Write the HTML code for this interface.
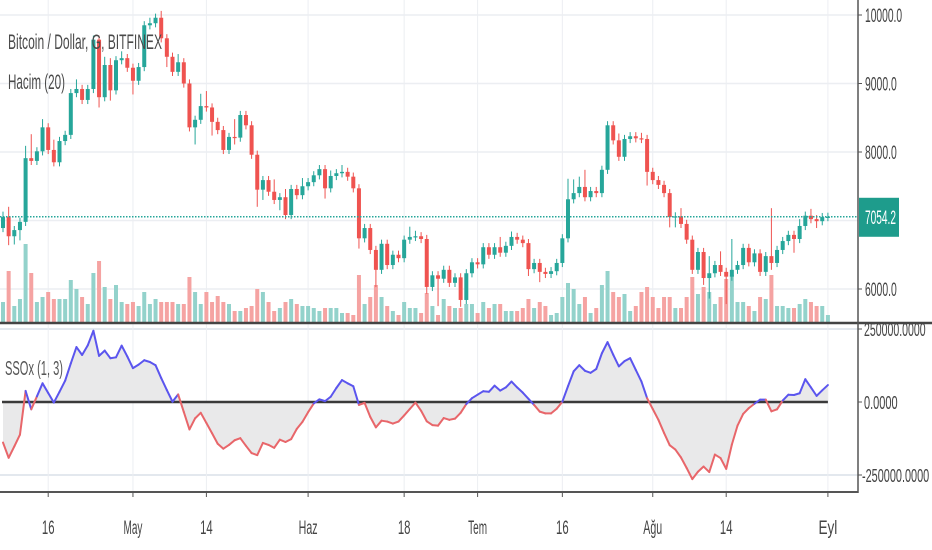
<!DOCTYPE html>
<html><head><meta charset="utf-8">
<style>
html,body{margin:0;padding:0;background:#fff;width:932px;height:550px;overflow:hidden}
svg{display:block;font-family:"Liberation Sans",sans-serif}
</style></head>
<body>
<svg id="chart" width="932" height="550" viewBox="0 0 932 550" xmlns="http://www.w3.org/2000/svg">
<rect x="0" y="0" width="932" height="550" fill="#ffffff"/>
<g id="grid"></g>
<g id="volume"></g>
<g id="candles"></g>
<g id="sso"></g>
<g id="axes"></g>
<text x="8" y="49" font-size="21" fill="#4a4a4a" textLength="154" lengthAdjust="spacingAndGlyphs">Bitcoin / Dollar, G, BITFINEX</text>
<text x="8" y="89" font-size="21" fill="#4a4a4a" textLength="57" lengthAdjust="spacingAndGlyphs">Hacim (20)</text>
<text x="5" y="375" font-size="20" fill="#555" textLength="58" lengthAdjust="spacingAndGlyphs">SSOx (1, 3)</text>
</svg>
<script>
const closes=[7050,6770,6860,6980,7910,7870,8010,8360,8030,7850,8160,8250,8860,8920,8760,8920,9640,8800,9270,8900,9340,9370,9230,9040,9240,9850,9880,9960,9660,9390,9170,9310,9000,8360,8470,8670,8650,8440,8320,8030,8220,8210,8540,8390,7960,7450,7590,7420,7300,7340,7080,7460,7370,7500,7560,7660,7750,7470,7650,7690,7710,7640,7470,6740,6890,6570,6280,6660,6350,6500,6450,6720,6760,6770,6730,6030,6200,6150,6280,6090,6170,5840,6230,6390,6360,6610,6500,6610,6530,6630,6760,6720,6670,6290,6380,6250,6220,6260,6380,6740,7310,7400,7490,7340,7430,7400,7740,8390,8170,7930,8190,8230,8200,8190,7710,7590,7520,7400,7050,7060,6950,6720,6280,6540,6160,6230,6350,6250,6180,6280,6350,6600,6390,6520,6250,6480,6380,6570,6700,6790,6730,6920,7070,7020,6990,7050,7054];
const firstOpen=6890;
const wickHi=[80,150,60,60,180,350,60,120,60,150,60,60,60,140,60,60,60,60,120,100,60,100,60,60,60,60,80,60,100,60,60,120,60,60,60,180,220,60,60,60,60,260,60,60,60,60,60,60,180,60,120,60,60,120,60,60,60,60,80,60,100,60,60,60,60,60,60,60,60,60,60,60,150,80,60,60,60,60,60,60,60,60,60,60,60,60,60,60,150,60,80,60,60,60,60,60,60,60,60,60,300,200,150,250,60,60,60,60,60,100,60,60,60,80,60,60,60,60,60,60,120,60,60,60,60,250,60,200,60,450,60,60,60,60,60,60,700,60,60,60,60,100,60,100,60,60,60];
const wickLo=[60,130,120,150,60,60,60,60,60,60,60,60,60,60,60,60,60,150,60,150,60,60,60,200,60,60,60,60,60,150,60,60,60,60,250,60,60,200,60,60,60,100,60,60,60,250,150,60,60,150,60,60,60,60,60,60,60,150,60,60,60,60,60,150,60,60,250,60,60,60,60,60,60,60,60,100,60,400,60,60,60,100,60,60,60,60,60,60,60,60,60,60,60,100,60,150,60,60,60,60,60,60,60,60,60,60,60,60,60,60,60,60,60,60,200,60,60,60,150,150,60,60,60,60,100,300,60,60,400,60,60,60,60,60,60,60,100,60,60,60,200,60,60,60,100,60,60];
const volumes=[20,51,16,23,78,49,20,25,30,23,23,23,42,33,25,18,49,61,35,23,37,20,18,20,16,30,18,23,20,20,20,18,18,45,30,18,30,20,26,20,18,11,11,14,16,33,30,20,11,14,20,23,18,16,16,14,11,14,14,14,9,9,7,47,18,25,37,25,16,11,7,20,14,14,9,29,16,7,23,16,14,14,18,18,9,20,14,18,18,11,11,11,14,23,14,20,16,7,9,25,39,33,18,25,9,14,37,51,30,25,28,11,16,30,35,25,14,25,25,14,14,25,45,28,35,30,18,25,43,47,20,20,16,11,25,23,47,16,16,14,14,18,23,20,16,16,7];
const ssoValues=[-139,-191,-152,-112,38,-25,19,64,31,-2,35,73,132,188,161,194,244,158,176,150,153,193,156,116,128,143,137,126,82,41,1,26,-34,-94,-56,-37,-72,-107,-143,-160,-147,-131,-124,-150,-175,-182,-140,-147,-157,-129,-137,-127,-92,-68,-35,-5,9,3,18,48,75,64,54,-10,-3,-51,-87,-64,-67,-74,-67,-46,-24,-2,-30,-66,-79,-81,-55,-61,-57,-37,-7,13,25,37,35,56,39,50,70,50,32,11,-10,-33,-39,-39,-23,1,54,105,126,107,100,113,167,205,162,122,140,150,110,70,13,-24,-61,-106,-148,-163,-190,-226,-264,-239,-221,-240,-180,-192,-229,-146,-81,-41,-21,-6,8,8,-32,-25,5,25,24,30,78,50,21,40,58];
const priceTicks=[10000,9000,8000,7000,6000];
const priceLabels=["10000.0","9000.0","8000.0","","6000.0"];
const ssoTicks=[250,0,-250];
const ssoLabels=["250000.0000","0.0000","-250000.0000"];
const timeIdx=[8,23,36,54,71,84,99,115,128,146];
const timeLabels=["16","May","14","Haz","18","Tem","16","Ağu","14","Eyl"];
const lastPrice=7054.2;

const NS="http://www.w3.org/2000/svg";
const xOf=i=>3+i*5.65;
const yP=p=>15+(10000-p)*0.0685;
const yS=v=>402-v*(73/250);
const yV=v=>322-v;
function mk(parent,tag,attrs,text){const e=document.createElementNS(NS,tag);for(const k in attrs)e.setAttribute(k,attrs[k]);if(text!==undefined)e.textContent=text;parent.appendChild(e);return e;}
const G=id=>document.getElementById(id);
const grid=G('grid'),vol=G('volume'),cd=G('candles'),sso=G('sso'),ax=G('axes');

priceTicks.forEach(p=>{const l=mk(grid,'line',{x1:0,x2:858,y1:yP(p),y2:yP(p),stroke:'#eceef2','stroke-width':1.5});

});
ssoTicks.forEach(v=>{if(v===0)return;const l=mk(grid,'line',{x1:0,x2:858,y1:yS(v),y2:yS(v),stroke:'#e3e8ee','stroke-width':2});

});
timeIdx.forEach(i=>{const l=mk(grid,'line',{x1:xOf(i),x2:xOf(i),y1:0,y2:492,stroke:'#eceef2','stroke-width':1});

});

closes.forEach((c,i)=>{
 const o=i===0?firstOpen:closes[i-1];
 const up=c>=o;const col=up?'#26a69a':'#ef5350';
 const x=xOf(i);
 const hv=mk(vol,'rect',{x:x-2,y:yV(volumes[i]),width:4,height:volumes[i],fill:up?'#93d2cb':'#f5a3a2'});
 
 
 const hi=Math.max(o,c)+wickHi[i],lo=Math.min(o,c)-wickLo[i];
 const w=mk(cd,'line',{x1:x,x2:x,y1:yP(hi),y2:yP(lo),stroke:col,'stroke-width':1});
 
 
 const top=yP(Math.max(o,c)),h=Math.max(1.2,yP(Math.min(o,c))-top);
 const b=mk(cd,'rect',{x:x-2,y:top,width:4,height:h,fill:col});
 
 
});
const lp=mk(cd,'line',{x1:0,x2:858,y1:yP(lastPrice),y2:yP(lastPrice),stroke:'#26a69a','stroke-width':1.5,'stroke-dasharray':'1.5,1.5'});



let d='M'+xOf(0)+','+yS(0);
ssoValues.forEach((v,i)=>{d+=' L'+xOf(i)+','+yS(v);});
d+=' L'+xOf(ssoValues.length-1)+','+yS(0)+' Z';
const fa=mk(sso,'path',{d:d,fill:'#e9e9ea'});


const zl=mk(sso,'line',{x1:2,x2:xOf(ssoValues.length-1),y1:yS(0),y2:yS(0),stroke:'#3a3a3a','stroke-width':2.5});


for(let i=1;i<ssoValues.length;i++){
 const a=ssoValues[i-1],b=ssoValues[i];
 const s=mk(sso,'line',{x1:xOf(i-1),y1:yS(a),x2:xOf(i),y2:yS(b),stroke:(a+b)/2>=0?'#5b55ee':'#e8666a','stroke-width':2,'stroke-linecap':'round'});
 
 
}

const sep=mk(ax,'line',{x1:0,x2:932,y1:323,y2:323,stroke:'#444','stroke-width':2.5});


const bl=mk(ax,'line',{x1:0,x2:858,y1:492,y2:492,stroke:'#555','stroke-width':2});


const vl=mk(ax,'line',{x1:858,x2:858,y1:0,y2:493,stroke:'#555','stroke-width':1.5});


priceTicks.forEach((p,k)=>{
 if(!priceLabels[k])return;
 const t=mk(ax,'line',{x1:858,x2:862,y1:yP(p),y2:yP(p),stroke:'#555'});
 
 
 const tx=mk(ax,'text',{x:865,y:yP(p)+7,'font-size':19,fill:'#444',textLength:priceLabels[k].length*5.3,lengthAdjust:'spacingAndGlyphs'},priceLabels[k]);
 
 
});
ssoTicks.forEach((v,k)=>{
 const t=mk(ax,'line',{x1:858,x2:862,y1:yS(v),y2:yS(v),stroke:'#555'});
 
 
 const tx=mk(ax,'text',{x:v<0?862:864,y:yS(v)+7,'font-size':18,fill:'#444',textLength:ssoLabels[k].length*5.6,lengthAdjust:'spacingAndGlyphs'},ssoLabels[k]);
 
 
});
timeIdx.forEach((i,k)=>{
 const t=mk(ax,'line',{x1:xOf(i),x2:xOf(i),y1:492,y2:497,stroke:'#555'});
 
 
 const tx=mk(ax,'text',{x:xOf(i),y:534,'font-size':19,fill:'#444','text-anchor':'middle',textLength:timeLabels[k].length*6.3,lengthAdjust:'spacingAndGlyphs'},timeLabels[k]);
 
 
});
const by=yP(lastPrice);
const bg=mk(ax,'rect',{x:859,y:by-19,width:40,height:39,fill:'#1e9c8c'});


const bt=mk(ax,'text',{x:865,y:by+7,'font-size':19,fill:'#fff',textLength:31,lengthAdjust:'spacingAndGlyphs'},lastPrice.toFixed(1));


</script>
</body></html>
